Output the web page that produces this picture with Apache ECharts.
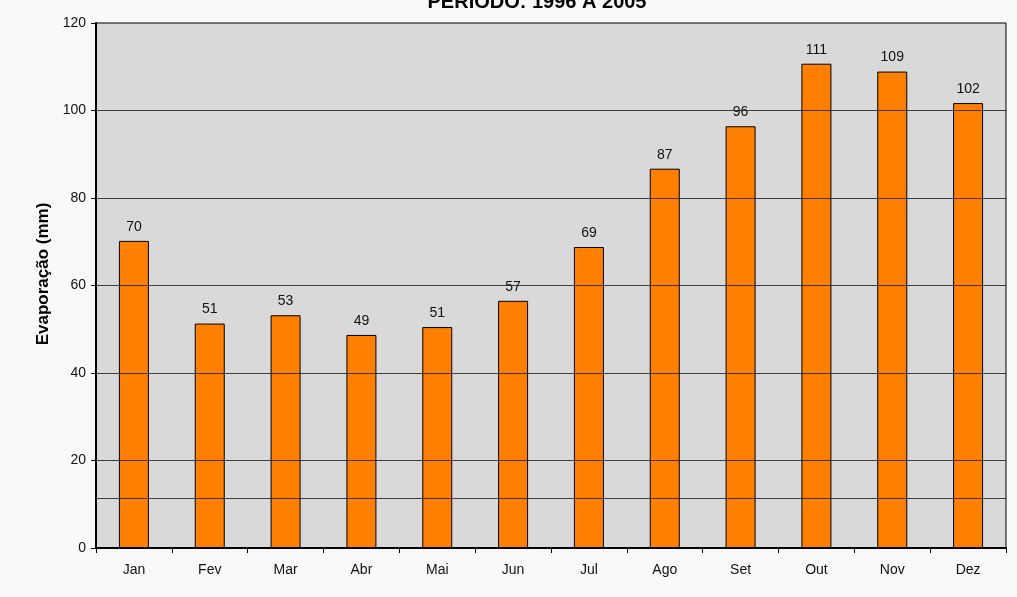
<!DOCTYPE html>
<html>
<head>
<meta charset="utf-8">
<script src="https://cdn.jsdelivr.net/npm/echarts@6/dist/echarts.min.js"></script>
<style>
  html, body { margin: 0; padding: 0; background: #f9f9f9; }
  #chart { width: 1017px; height: 597px; }
</style>
</head>
<body>
<div id="chart"></div>
<script>
// meses
const months = ['Jan', 'Fev', 'Mar', 'Abr', 'Mai', 'Jun', 'Jul', 'Ago', 'Set', 'Out', 'Nov', 'Dez']
// evaporação média mensal (mm)
const evaporacao = [70.2, 51.3, 53.2, 48.7, 50.5, 56.5, 68.8, 86.7, 96.4, 110.7, 108.9, 101.7]
// marcas do eixo y
const yTicks = [0, 20, 40, 60, 80, 100, 120]
// linha extra que aparece no gráfico original
const extraLines = [11.4]

const font = 'Arial, "Liberation Sans", sans-serif'
const myChart = echarts.init(document.getElementById('chart'))

// linhas de grade por cima das barras
const gridLines = yTicks.filter(v => v > 0 && v < 120).concat(extraLines).map(v => ({ yAxis: v }))

const option = {
    backgroundColor: '#f9f9f9',
    animation: false,
    graphic: [
        {
            type: 'text',
            x: 537,
            y: -8,
            style: { text: 'PERÍODO: 1996 A 2005', font: 'bold 20px ' + font, fill: '#000', align: 'center' }
        },
        {
            type: 'text',
            x: 43,
            y: 274,
            rotation: Math.PI / 2,
            style: {
                text: 'Evaporação (mm)',
                font: 'bold 17px ' + font,
                fill: '#000',
                align: 'center',
                verticalAlign: 'middle'
            }
        }
    ],
    grid: {
        left: 96,
        right: 11,
        top: 23,
        bottom: 49,
        show: true,
        backgroundColor: '#d9d9d9',
        borderColor: '#000',
        borderWidth: 1
    },
    xAxis: {
        type: 'category',
        data: months,
        axisLine: { lineStyle: { color: '#000', width: 2 } },
        axisTick: { show: true, length: 5, lineStyle: { color: '#000' } },
        axisLabel: { margin: 15, fontSize: 14, fontFamily: font, color: '#111' }
    },
    yAxis: {
        type: 'value',
        min: 0,
        max: 120,
        interval: 20,
        axisLine: { show: true, lineStyle: { color: '#000', width: 2 } },
        axisTick: { show: true, length: 5, lineStyle: { color: '#000' } },
        axisLabel: { margin: 10, fontSize: 14, fontFamily: font, color: '#111' },
        splitLine: { show: false }
    },
    series: [
        {
            type: 'bar',
            data: evaporacao,
            barWidth: 30,
            itemStyle: { color: '#ff8000', borderColor: '#000', borderWidth: 1 },
            label: {
                show: true,
                position: 'top',
                distance: 7,
                fontSize: 14,
                fontFamily: font,
                color: '#111',
                formatter: p => Math.round(p.value)
            }
        },
        {
            type: 'line',
            data: [],
            z: 5,
            markLine: {
                silent: true,
                symbol: 'none',
                label: { show: false },
                lineStyle: { color: '#222', width: 1, type: 'solid', opacity: 0.85 },
                data: gridLines
            }
        }
    ]
}

myChart.setOption(option)
</script>
</body>
</html>
